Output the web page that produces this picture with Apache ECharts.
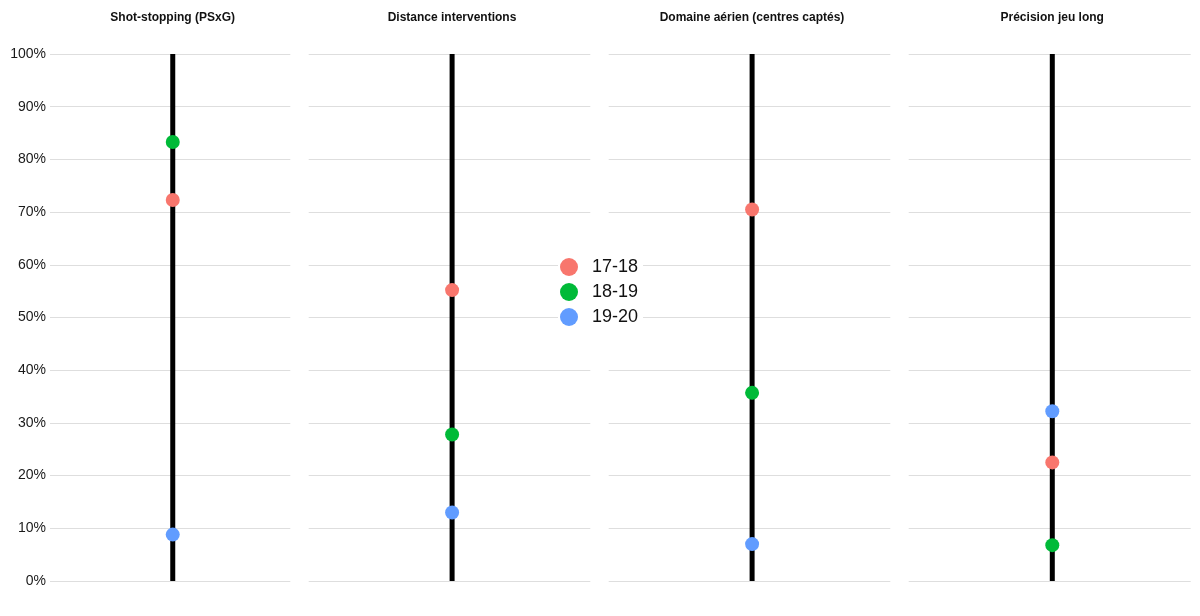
<!DOCTYPE html>
<html>
<head>
<meta charset="utf-8">
<script src="https://cdn.jsdelivr.net/npm/echarts@6/dist/echarts.min.js"></script>
<style>
html,body{margin:0;padding:0;background:#fff;}
#chart{width:1200px;height:616px;}
</style>
</head>
<body>
<div id="chart"></div>
<script>
// ---- data ----
const metrics = ['Shot-stopping (PSxG)', 'Distance interventions', 'Domaine aérien (centres captés)', 'Précision jeu long'];
const seasons = ['17-18', '18-19', '19-20'];
const s1718 = [72.3, 55.2, 70.5, 22.5];
const s1819 = [83.3, 27.8, 35.7, 6.8];
const s1920 = [8.8, 13.0, 7.0, 32.2];
const lineSpan = [100, 100, 100, 100]; // each metric's scale runs 0–100%
const yTicks = [0, 10, 20, 30, 40, 50, 60, 70, 80, 90, 100];

// ---- layout / style ----
const seasonValues = [s1718, s1819, s1920];
const seasonColors = ['#F8766D', '#00BA38', '#619CFF'];
const panels = [
  {left: 50, width: 240.3},
  {left: 308.7, width: 281.6},
  {left: 608.7, width: 281.6},
  {left: 908.7, width: 282}
];
const MARK_SHIFT = 2.6;
const TOP = 54, HEIGHT = 527;
const font = '"Liberation Sans", Arial, sans-serif';

const grid = [], xAxis = [], yAxis = [], series = [], title = [];
const yMin = yTicks[0], yMax = yTicks[yTicks.length - 1], yInt = yTicks[1] - yTicks[0];
panels.forEach((p, i) => {
  // background grid (gridlines + labels)
  grid.push({left: p.left, top: TOP, width: p.width, height: HEIGHT});
  xAxis.push({type: 'category', gridIndex: 2 * i, data: [metrics[i]], show: false});
  yAxis.push({
    type: 'value', gridIndex: 2 * i, min: yMin, max: yMax, interval: yInt,
    axisLine: {show: false}, axisTick: {show: false},
    axisLabel: {show: i === 0, formatter: '{value}%', fontSize: 14, color: '#1a1a1a', fontFamily: font, margin: 4},
    splitLine: {show: true, lineStyle: {color: '#dedede', width: 1}}
  });
  // marks grid
  grid.push({left: p.left + MARK_SHIFT, top: TOP, width: p.width, height: HEIGHT});
  xAxis.push({type: 'category', gridIndex: 2 * i + 1, data: [metrics[i]], show: false});
  yAxis.push({type: 'value', gridIndex: 2 * i + 1, min: yMin, max: yMax, interval: yInt, show: false, splitLine: {show: false}});
  title.push({
    text: metrics[i], left: p.left + p.width / 2 - 2.5, top: 7, textAlign: 'center',
    textStyle: {fontSize: 12, fontWeight: 'bold', color: '#111', fontFamily: font}
  });
  series.push({
    type: 'bar', name: 'range', xAxisIndex: 2 * i + 1, yAxisIndex: 2 * i + 1, data: [lineSpan[i]],
    barWidth: 5, itemStyle: {color: '#000'}, silent: true, z: 2
  });
  seasons.forEach((s, j) => {
    series.push({
      type: 'scatter', name: s, xAxisIndex: 2 * i + 1, yAxisIndex: 2 * i + 1, data: [seasonValues[j][i]],
      symbol: 'circle', symbolSize: 14, itemStyle: {color: seasonColors[j], opacity: 1}, z: 5
    });
  });
});

const chart = echarts.init(document.getElementById('chart'), null, {renderer: 'canvas'});
chart.setOption({
  animation: false,
  backgroundColor: '#fff',
  title: title,
  grid: grid,
  xAxis: xAxis,
  yAxis: yAxis,
  legend: {
    data: seasons, orient: 'vertical', left: 558, top: 254,
    icon: 'circle', itemWidth: 20, itemHeight: 18, itemGap: 7,
    padding: [4, 5, 4, 2], backgroundColor: '#fff',
    textStyle: {fontSize: 18, color: '#111', fontFamily: font, padding: [0, 0, 0, 8]},
    selectedMode: false, z: 10
  },
  series: series
});
</script>
</body>
</html>
